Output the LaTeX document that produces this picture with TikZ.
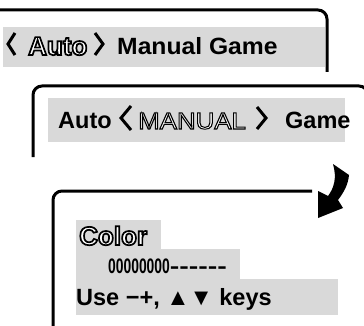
\documentclass[tikz,border=0pt]{standalone}
\usepackage{fontspec}
\setmainfont{Liberation Sans}
\usepackage{graphicx}
\definecolor{bandgray}{RGB}{217,217,217}
\newcommand\outlbold[1]{\special{pdf:literal direct 2 Tr 1.7 w 1 g 0 G}#1\special{pdf:literal direct 0 Tr 0 g}}
\newcommand\outlthin[1]{{\mdseries\special{pdf:literal direct 2 Tr 1.0 w 1 g 0 G}#1\special{pdf:literal direct 0 Tr 0 g}}}
\newcommand\hy{\mbox{-}}
\begin{document}
\begin{tikzpicture}[x=1pt,y=-1pt,
  frame/.style={line width=3pt, rounded corners=9pt},
  band/.style={fill=bandgray, draw=none},
  txt/.style={anchor=base west, inner sep=0pt, font=\fontsize{23.5}{24}\selectfont\bfseries},
  bigtxt/.style={anchor=base west, inner sep=0pt, font=\fontsize{26}{27}\selectfont\bfseries},
  chev/.style={line width=3pt, line join=miter}]
\useasboundingbox (0,0) rectangle (364,326);

% grey bands
\fill[band] (3,27) rectangle (325,67);
\fill[band] (48,98) rectangle (345,142);
\fill[band] (76,220) rectangle (161,249);
\fill[band] (76,249) rectangle (240,279);
\fill[band] (76,279) rectangle (338,315);

% frames
\draw[frame] (-6,10) -- (327,10) -- (327,72);
\draw[frame] (33,157) -- (33,86) -- (368,86) -- (368,160);
\draw[frame] (312,191) -- (53,191) -- (53,334);

% row 1
\draw[chev] (15,33) -- (8,44) -- (15,55);
\node[bigtxt] (auto1) at (28,55) {\outlbold{Auto}};
\draw[chev] (95,33) -- (103,44) -- (95,55);
\node[txt] (manual1) at (117,55) {\scalebox{1.05}[1]{Manual Game}};

% row 2
\node[txt] (auto2) at (58,129) {Auto};
\draw[chev] (131,106) -- (121,118) -- (131,130);
\node[txt] (manual2) at (138,129) {\scalebox{1.1}[1]{\outlthin{MANUAL}}};
\draw[chev] (257,107) -- (266,118) -- (257,129);
\node[txt] (game2) at (285,129) {Game};

% row 3
\node[bigtxt] (color) at (79,245) {\outlbold{Color}};
\node[txt, font=\fontsize{21}{22}\selectfont\bfseries] (level) at (108,273)
  {\scalebox{0.66}[1]{00000000}\scalebox{1.36}[1]{\hy\hy\hy\hy\hy\hy}};
\node[txt] (keys) at (76,305) {Use −+, ▲▼ keys};

% bent arrow
\fill (333,164) -- (349,175) .. controls (348,185) and (344,192) .. (338,200)
  -- (343,208) -- (318,218) -- (318,191) -- (328,196)
  .. controls (334,188) and (337,178) .. (333,164) -- cycle;
\end{tikzpicture}
\end{document}
